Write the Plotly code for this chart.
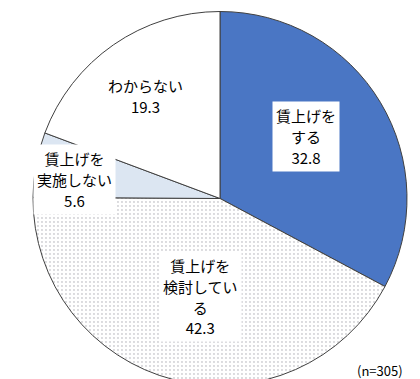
import plotly.graph_objects as go

categories = ["賃上げを<br>する", "賃上げを<br>検討してい<br>る", "賃上げを<br>実施しない", "わからない"]
values = [32.8, 42.3, 5.6, 19.3]
colors = ["#4A76C4", "#FFFFFF", "#DCE6F2", "#FFFFFF"]
patterns = ["", ".", "", ""]
sample_note = "(n=305)"

W, H = 420, 379
fig = go.Figure(go.Pie(
    labels=categories,
    values=values,
    sort=False,
    direction="clockwise",
    rotation=0,
    textinfo="none",
    hoverinfo="skip",
    marker=dict(
        colors=colors,
        line=dict(color="#404040", width=1),
        pattern=dict(shape=patterns, fgcolor="#4a4a5a", bgcolor=colors, size=4, solidity=0.1, fillmode="overlay"),
    ),
    domain=dict(x=[25 / W, 399 / W], y=[1 - 378 / H, 1 - 3 / H]),
    showlegend=False,
))

# label centres in pixels (box centres), one per category
label_px = [(298, 128), (192, 288), (66, 172), (137, 88)]
for cat, val, (px, py) in zip(categories, values, label_px):
    txt = "<br>".join(f"<span style='font-size:15px'>{s}</span>" for s in (cat.split("<br>") + [f"{val:.1f}"]))
    fig.add_annotation(
        x=px / W, y=1 - py / H, xref="paper", yref="paper",
        xanchor="center", yanchor="middle",
        text=txt, showarrow=False, align="center",
        font=dict(size=16, color="#000000", family="Noto Sans CJK JP"),
        bgcolor="#FFFFFF", borderpad=3,
    )

fig.add_annotation(
    x=372 / W, y=1 - 362 / H, xref="paper", yref="paper",
    xanchor="center", yanchor="middle",
    text=sample_note, showarrow=False,
    font=dict(size=13, color="#000000", family="Noto Sans CJK JP"),
)

fig.update_layout(
    width=W, height=H,
    margin=dict(l=0, r=0, t=0, b=0),
    paper_bgcolor="#FFFFFF", plot_bgcolor="#FFFFFF",
)
fig.write_html("out.html")
